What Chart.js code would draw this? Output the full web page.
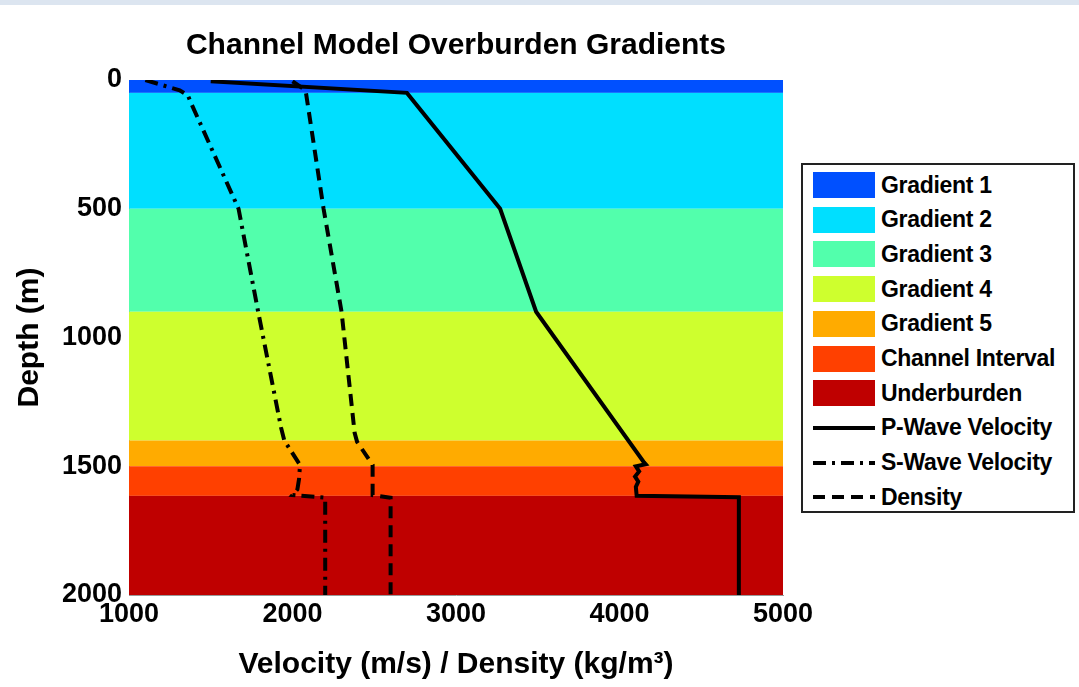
<!DOCTYPE html>
<html>
<head>
<meta charset="utf-8">
<script src="https://cdn.jsdelivr.net/npm/chart.js@4"></script>
<style>
    html, body { margin: 0; padding: 0; background: #fff; }
    body { width: 1079px; height: 687px; position: relative; overflow: hidden; font-family: "Liberation Sans", Arial, sans-serif; }
    #strip { position: absolute; left: 0; top: 0; width: 1079px; height: 5px; background: #dce5f0; }
    #wrap { position: absolute; left: 0; top: 0; width: 1079px; height: 687px; }
    #legend { position: absolute; left: 801px; top: 163px; width: 274px; height: 350px; border: 2px solid #222; box-sizing: border-box; background: #fff; }
    .row { position: absolute; left: 10px; height: 30px; display: flex; align-items: center; }
    .sw { width: 62px; height: 26px; margin-right: 6px; flex: none; }
    .row span { font-weight: bold; font-size: 23px; color: #000; white-space: nowrap; letter-spacing: -0.3px; }
</style>
</head>
<body>
<div id="strip"></div>
<div id="wrap"><canvas id="chart" width="1079" height="687"></canvas></div>
<div id="legend"></div>
<script>
// layers: name, colour, top and bottom depth (m)
var bandNames = ["Gradient 1", "Gradient 2", "Gradient 3", "Gradient 4", "Gradient 5", "Channel Interval", "Underburden"];
var bandColors = ["#0050ff", "#00dfff", "#52ffac", "#ceff2e", "#ffab00", "#ff4000", "#bf0000"];
var bandTop = [0, 50, 500, 900, 1400, 1500, 1615];
var bandBottom = [50, 500, 900, 1400, 1500, 1615, 2000];

// P-wave velocity (m/s) vs depth (m)
var pDepth = [5, 50, 500, 900, 1485, 1492, 1500, 1520, 1540, 1560, 1580, 1615, 1620, 2000];
var pVel = [1500, 2700, 3270, 3490, 4150, 4160, 4100, 4120, 4095, 4115, 4100, 4105, 4730, 4730];

// S-wave velocity (m/s) vs depth (m)
var sDepth = [0, 40, 60, 90, 500, 900, 1350, 1400, 1495, 1550, 1590, 1612, 1622, 2000];
var sVel = [1100, 1310, 1360, 1380, 1670, 1790, 1930, 1950, 2046, 2040, 2030, 2000, 2200, 2200];

// density (kg/m3) vs depth (m)
var dDepth = [5, 40, 500, 900, 1370, 1405, 1495, 1612, 1622, 2000];
var dVal = [2000, 2080, 2190, 2300, 2380, 2395, 2490, 2490, 2600, 2600];

var lineNames = ["P-Wave Velocity", "S-Wave Velocity", "Density"];
var lineDashes = [[], [13, 6, 3, 6], [12, 7]];

var xTicks = [1000, 2000, 3000, 4000, 5000];
var yTicks = [0, 500, 1000, 1500, 2000];

var toPoints = function (vals, depths) {
    return vals.map(function (v, i) { return { x: v, y: depths[i] }; });
};

var bandPlugin = {
    id: 'bands',
    beforeDatasetsDraw: function (chart) {
        var ctx = chart.ctx;
        var xs = chart.scales.x, ys = chart.scales.y;
        var l = xs.getPixelForValue(xTicks[0]);
        var r = xs.getPixelForValue(xTicks[xTicks.length - 1]);
        ctx.save();
        for (var i = 0; i < bandNames.length; i++) {
            var t = ys.getPixelForValue(bandTop[i]);
            var b = ys.getPixelForValue(bandBottom[i]);
            ctx.fillStyle = bandColors[i];
            ctx.fillRect(l, t, r - l, b - t);
        }
        ctx.restore();
    }
};

var series = [toPoints(pVel, pDepth), toPoints(sVel, sDepth), toPoints(dVal, dDepth)];
var datasets = series.map(function (pts, i) {
    return {
        label: lineNames[i],
        data: pts,
        showLine: true,
        borderColor: '#000',
        borderWidth: 4,
        borderDash: lineDashes[i],
        pointRadius: 0,
        fill: false,
        tension: 0
    };
});

var fontFamily = "'Liberation Sans', Arial, sans-serif";
var tickFont = { family: fontFamily, size: 27, weight: 'bold' };
var axisTitleFont = { family: fontFamily, size: 30, weight: 'bold' };
var plain = function (v) { return String(v); };

new Chart(document.getElementById('chart'), {
    type: 'scatter',
    data: { datasets: datasets },
    plugins: [bandPlugin],
    options: {
        responsive: false,
        animation: false,
        layout: { padding: { left: 0, right: 296, top: 0, bottom: 0 } },
        plugins: {
            legend: { display: false },
            tooltip: { enabled: false },
            title: {
                display: true,
                text: 'Channel Model Overburden Gradients',
                fullSize: false,
                color: '#000',
                font: { family: fontFamily, size: 30, weight: 'bold' },
                padding: { top: 28, bottom: 16 }
            }
        },
        scales: {
            x: {
                type: 'linear',
                min: 1000,
                max: 5000,
                afterFit: function (s) { s.height = 92; },
                afterBuildTicks: function (s) { s.ticks = xTicks.map(function (v) { return { value: v }; }); },
                grid: { display: false, drawTicks: false },
                border: { display: true, color: '#999', width: 1 },
                ticks: { color: '#000', font: tickFont, padding: 3, maxRotation: 0, autoSkip: false, callback: plain },
                title: {
                    display: true,
                    text: 'Velocity (m/s) / Density (kg/m\u00b3)',
                    color: '#000',
                    font: axisTitleFont,
                    padding: { top: 0, bottom: 4 }
                }
            },
            y: {
                type: 'linear',
                reverse: true,
                min: 0,
                max: 2000,
                afterFit: function (s) { s.width = 129; },
                afterBuildTicks: function (s) { s.ticks = yTicks.map(function (v) { return { value: v }; }); },
                grid: { display: false, drawTicks: false },
                border: { display: true, color: '#999', width: 1 },
                ticks: { color: '#000', font: tickFont, padding: 7, autoSkip: false, callback: plain },
                title: {
                    display: true,
                    text: 'Depth (m)',
                    color: '#000',
                    font: axisTitleFont,
                    padding: { top: 12, bottom: 0 }
                }
            }
        }
    }
});

// legend box
var legend = document.getElementById('legend');
var rowY = 5;
bandNames.forEach(function (name, i) {
    var row = document.createElement('div');
    row.className = 'row';
    row.style.top = rowY + 'px';
    row.innerHTML = '<div class="sw" style="background:' + bandColors[i] + '"></div><span>' + name + '</span>';
    legend.appendChild(row);
    rowY += 34.7;
});
lineNames.forEach(function (name, i) {
    var row = document.createElement('div');
    row.className = 'row';
    row.style.top = rowY + 'px';
    var dash = lineDashes[i].length ? lineDashes[i].join(',') : 'none';
    row.innerHTML = '<svg class="sw" width="62" height="26"><line x1="0" y1="13" x2="62" y2="13" stroke="#000" stroke-width="4" stroke-dasharray="' + dash + '"/></svg><span>' + name + '</span>';
    legend.appendChild(row);
    rowY += 34.7;
});
</script>
</body>
</html>
